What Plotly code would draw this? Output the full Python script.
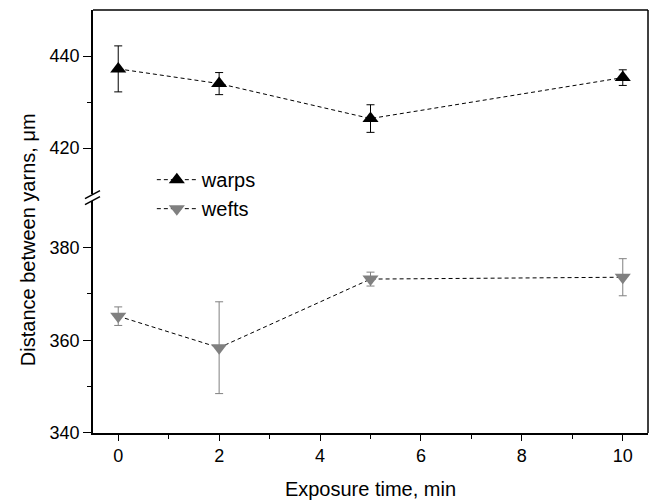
import plotly.graph_objects as go

# Data
time_min = [0, 2, 5, 10]
warps = [437.2, 434.0, 426.4, 435.3]
warps_err = [5.0, 2.4, 3.0, 1.7]
wefts = [365.2, 358.4, 373.2, 373.6]
wefts_err = [2.0, 9.9, 1.5, 4.0]

FONT = "Liberation Sans, Arial, sans-serif"
GRAY = "#808080"

fig = go.Figure()

fig.add_trace(go.Scatter(
    x=time_min, y=warps, name="warps", yaxis="y2",
    mode="lines+markers",
    line=dict(color="black", width=1, dash="4px,3px"),
    marker=dict(symbol="triangle-up", size=14, color="black"),
    error_y=dict(type="data", array=warps_err, color="black", thickness=1, width=4),
))
fig.add_trace(go.Scatter(
    x=time_min, y=wefts, name="wefts", yaxis="y",
    mode="lines+markers",
    line=dict(color="black", width=1, dash="4px,3px"),
    marker=dict(symbol="triangle-down", size=14, color=GRAY),
    error_y=dict(type="data", array=wefts_err, color=GRAY, thickness=1, width=4),
))

lower_dom = [0, 0.548]
upper_dom = [0.565, 1]
brk = (lower_dom[1] + upper_dom[0]) / 2

fig.update_layout(
    width=666, height=502,
    margin=dict(l=85, r=26, t=2, b=77),
    paper_bgcolor="white", plot_bgcolor="white",
    font=dict(family=FONT, size=18, color="black"),
    showlegend=True,
    legend=dict(x=0.106, y=0.645, xanchor="left", yanchor="top",
                bgcolor="rgba(0,0,0,0)", font=dict(size=20), itemwidth=40,
                tracegroupgap=0),
    xaxis=dict(
        range=[-0.5, 10.5], tickvals=[0, 2, 4, 6, 8, 10],
        ticks="outside", ticklen=6, tickwidth=1, tickcolor="black",
        showline=True, linecolor="black", linewidth=1.5, mirror=False,
        showgrid=False, zeroline=False,
        minor=dict(tickvals=[1, 3, 5, 7, 9], ticks="outside", ticklen=4, tickcolor="black"),
        tickfont=dict(size=18),
        title=dict(text="Exposure time, min", font=dict(size=20), standoff=17),
    ),
    yaxis=dict(
        domain=lower_dom, range=[340, 390], tickvals=[340, 360, 380],
        ticks="outside", ticklen=8, tickwidth=1, tickcolor="black",
        showline=True, linecolor="black", linewidth=1.5,
        showgrid=False, zeroline=False,
        minor=dict(tickvals=[350, 370], ticks="outside", ticklen=4, tickcolor="black"),
        tickfont=dict(size=18),
    ),
    yaxis2=dict(
        domain=upper_dom, range=[410, 450], tickvals=[420, 440],
        ticks="outside", ticklen=8, tickwidth=1, tickcolor="black",
        showline=True, linecolor="black", linewidth=1.5,
        showgrid=False, zeroline=False, anchor="x",
        minor=dict(tickvals=[430], ticks="outside", ticklen=4, tickcolor="black"),
        tickfont=dict(size=18),
    ),
)

# Frame: top and right borders
fig.add_shape(type="line", xref="paper", yref="paper", x0=0, x1=1, y0=1, y1=1,
              line=dict(color="black", width=1.5))
fig.add_shape(type="line", xref="paper", yref="paper", x0=1, x1=1, y0=0, y1=1,
              line=dict(color="black", width=1.5))

# Axis break marks "//"
for dy in (-3, 3):
    fig.add_shape(type="line", xref="paper", yref="paper",
                  xsizemode="pixel", ysizemode="pixel", xanchor=0, yanchor=brk,
                  x0=-8, x1=7, y0=-4 + dy, y1=4 + dy,
                  line=dict(color="black", width=1.5))

# Y-axis title spanning both segments
fig.add_annotation(text="Distance between yarns, μm", xref="paper", yref="paper",
                   x=-0.117, y=0.456, xanchor="center", yanchor="middle",
                   textangle=-90, showarrow=False, font=dict(size=20))

fig.write_html("out.html")
